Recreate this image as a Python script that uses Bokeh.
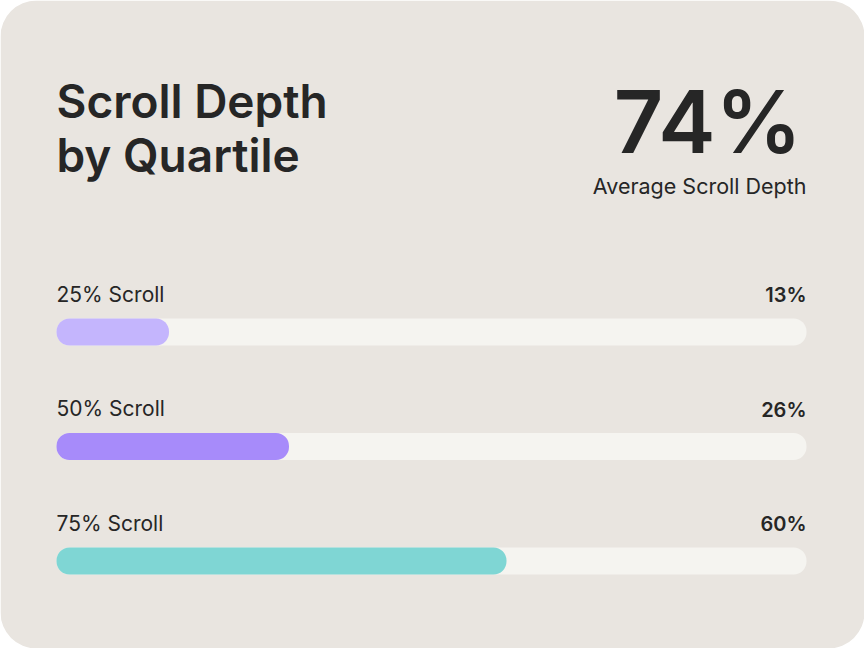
from bokeh.plotting import figure
from bokeh.models import Range1d
from bokeh.core.properties import value
from bokeh.embed import file_html
from bokeh.resources import INLINE

# ---- data ----
title_lines = ["Scroll Depth", "by Quartile"]
average_depth = "74%"
average_caption = "Average Scroll Depth"
quartile_labels = ["25% Scroll", "50% Scroll", "75% Scroll"]
value_labels = ["13%", "26%", "60%"]
bar_lengths = [15, 31, 60]          # bar fill length, % of track (as drawn)
track_max = [100, 100, 100]
bar_colors = ["#C4B5FD", "#A78BFA", "#7FD6D4"]

# ---- layout ----
W, H = 864, 648
X0, X1 = 56, 806                     # track pixel extent
PX = (X1 - X0) / 100.0
row_y = [331.5, 446.0, 560.5]
label_y = [y - 38 for y in row_y]

CARD = "#E9E5E0"
TRACK = "#F5F4F0"
INK = "#262626"
FONT = value("Inter")
FONT_SB = value("Inter SemiBold")

p = figure(width=W, height=H, output_backend="svg", toolbar_location=None,
           x_range=Range1d(-X0 / PX, (W - X0) / PX), y_range=Range1d(H, 0),
           min_border=0, outline_line_color=None,
           background_fill_color="white", border_fill_color="white")
p.axis.visible = False
p.grid.visible = False

# card
p.quad(left=[-X0 / PX], right=[(W - X0) / PX], top=[0], bottom=[H],
       fill_color=CARD, line_color=None, border_radius=36)

# tracks and bars
p.hbar(y=row_y, left=0, right=track_max, height=27, fill_color=TRACK,
       line_color=None, border_radius=13)
p.hbar(y=row_y, left=0, right=bar_lengths, height=27, fill_color=bar_colors,
       line_color=None, border_radius=13)

# row labels
p.text(x=[0] * 3, y=label_y, text=quartile_labels, text_font=FONT,
       text_font_size="21px", text_color=INK, text_baseline="alphabetic",
       text_align="left")
p.text(x=[100] * 3, y=[y + 1 for y in label_y], text=value_labels, text_font=FONT_SB,
       text_font_size="20px", text_color=INK,
       text_baseline="alphabetic", text_align="right")

# title
p.text(x=[0, 0], y=[100, 154], text=title_lines, text_font=FONT_SB,
       text_font_size="46px", text_color=INK,
       text_baseline="alphabetic", text_align="left")

# KPI
p.text(x=[99.4], y=[121], text=[average_depth], text_font=FONT_SB,
       text_font_size="86px", text_color=INK,
       text_baseline="alphabetic", text_align="right")
p.text(x=[100], y=[185], text=[average_caption], text_font=FONT,
       text_font_size="21.5px", text_color=INK, text_baseline="alphabetic",
       text_align="right")

html = file_html(p, INLINE)
html = html.replace("</head>", "<style>html,body{margin:0;padding:0;overflow:hidden;}</style></head>", 1)
open("out.html", "w").write(html)
